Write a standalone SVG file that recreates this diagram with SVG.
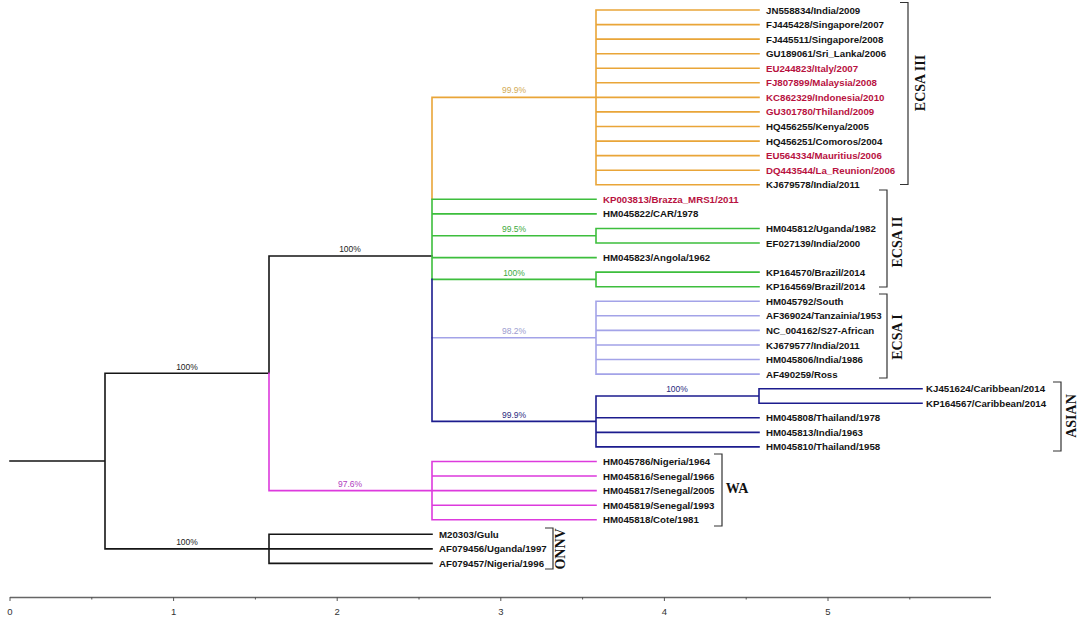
<svg xmlns="http://www.w3.org/2000/svg" width="1084" height="619" viewBox="0 0 1084 619">
<style>
.ln{fill:none;stroke-width:1.6;stroke-linecap:square}
.k{stroke:#151515}.o{stroke:#E9A538}.g{stroke:#3DBE3D}.p{stroke:#A3A3E8}.b{stroke:#1C1C8E}.m{stroke:#DD3ADD}
.lf{font-family:"Liberation Sans",Arial,sans-serif;font-size:9.7px;font-weight:bold;fill:#141414}
.red{fill:#B8123F}
.bs{font-family:"Liberation Sans",Arial,sans-serif;font-size:8.5px;text-anchor:middle}
.cl{font-family:"Liberation Serif","Times New Roman",serif;font-size:14px;font-weight:bold;fill:#111;text-anchor:middle}
.br{fill:none;stroke:#333;stroke-width:1.2}
.ax{font-family:"Liberation Sans",Arial,sans-serif;font-size:9.5px;fill:#333;text-anchor:middle}
</style>
<rect width="1084" height="619" fill="#fff"/>
<g id="connectors">
<path class="ln k" d="M10 461H105M105 373.3V548.9M105 373.3H269M105 548.9H269M269 534.3V563.4M269 534.3H432M269 548.9H432M269 563.4H432M269 256V373.3M269 256H432"/>
<path class="ln m" d="M269 373.3V490.6H432M432 461.5V519.7M432 461.5H596M432 476H596M432 490.6H596M432 505.2H596M432 519.7H596"/>
<path class="ln o" d="M432 97.4V199.3M432 97.4H596M596 10V184.8M596 10H759M596 24.6H759M596 39.1H759M596 53.7H759M596 68.3H759M596 82.8H759M596 97.4H759M596 111.9H759M596 126.5H759M596 141.1H759M596 155.6H759M596 170.2H759M596 184.8H759"/>
<path class="ln g" d="M432 199.3V279.4M432 199.3H596M432 213.9H596M432 235.7H596M596 228.5V243M596 228.5H759M596 243H759M432 257.6H596M432 279.4H596M596 272.1V286.7M596 272.1H759M596 286.7H759"/>
<path class="ln p" d="M432 337.7H596M596 301.3V374.1M596 301.3H759M596 315.8H759M596 330.4H759M596 345H759M596 359.5H759M596 374.1H759"/>
<path class="ln b" d="M432 279.4V421.4H596M596 396V446.9M596 396H759M759 388.7V403.2M759 388.7H922M759 403.2H922M596 417.8H759M596 432.4H759M596 446.9H759"/>
</g>
<g id="support">
<text class="bs" x="514" y="93" fill="#D2AA55">99.9%</text>
<text class="bs" x="350" y="252" fill="#222">100%</text>
<text class="bs" x="514" y="232" fill="#3DAA3D">99.5%</text>
<text class="bs" x="514" y="275.5" fill="#3DAA3D">100%</text>
<text class="bs" x="514" y="334" fill="#9C9CCF">98.2%</text>
<text class="bs" x="677" y="392" fill="#2A2A80">100%</text>
<text class="bs" x="514" y="418" fill="#2A2A80">99.9%</text>
<text class="bs" x="350" y="487" fill="#B040C0">97.6%</text>
<text class="bs" x="187" y="369.5" fill="#222">100%</text>
<text class="bs" x="187" y="545" fill="#222">100%</text>
</g>
<g id="n-ecsa3-leaves">
<text class="lf" x="766" y="13.5">JN558834/India/2009</text>
<text class="lf" x="766" y="28.1">FJ445428/Singapore/2007</text>
<text class="lf" x="766" y="42.6">FJ445511/Singapore/2008</text>
<text class="lf" x="766" y="57.2">GU189061/Sri_Lanka/2006</text>
<text class="lf red" x="766" y="71.8">EU244823/Italy/2007</text>
<text class="lf red" x="766" y="86.3">FJ807899/Malaysia/2008</text>
<text class="lf red" x="766" y="100.9">KC862329/Indonesia/2010</text>
<text class="lf red" x="766" y="115.4">GU301780/Thiland/2009</text>
<text class="lf" x="766" y="130">HQ456255/Kenya/2005</text>
<text class="lf" x="766" y="144.6">HQ456251/Comoros/2004</text>
<text class="lf red" x="766" y="159.1">EU564334/Mauritius/2006</text>
<text class="lf red" x="766" y="173.7">DQ443544/La_Reunion/2006</text>
<text class="lf" x="766" y="188.3">KJ679578/India/2011</text>
</g>
<g id="n-ecsa2-leaves">
<text class="lf red" x="603" y="202.8">KP003813/Brazza_MRS1/2011</text>
<text class="lf" x="603" y="217.4">HM045822/CAR/1978</text>
<text class="lf" x="766" y="232">HM045812/Uganda/1982</text>
<text class="lf" x="766" y="246.5">EF027139/India/2000</text>
<text class="lf" x="603" y="261.1">HM045823/Angola/1962</text>
<text class="lf" x="766" y="275.6">KP164570/Brazil/2014</text>
<text class="lf" x="766" y="290.2">KP164569/Brazil/2014</text>
</g>
<g id="n-ecsa1-leaves">
<text class="lf" x="766" y="304.8">HM045792/South</text>
<text class="lf" x="766" y="319.3">AF369024/Tanzainia/1953</text>
<text class="lf" x="766" y="333.9">NC_004162/S27-African</text>
<text class="lf" x="766" y="348.5">KJ679577/India/2011</text>
<text class="lf" x="766" y="363">HM045806/India/1986</text>
<text class="lf" x="766" y="377.6">AF490259/Ross</text>
</g>
<g id="n-asian-leaves">
<text class="lf" x="926" y="392.2">KJ451624/Caribbean/2014</text>
<text class="lf" x="926" y="406.7">KP164567/Caribbean/2014</text>
<text class="lf" x="766" y="421.3">HM045808/Thailand/1978</text>
<text class="lf" x="766" y="435.9">HM045813/India/1963</text>
<text class="lf" x="766" y="450.4">HM045810/Thailand/1958</text>
</g>
<g id="n-wa-leaves">
<text class="lf" x="603" y="465">HM045786/Nigeria/1964</text>
<text class="lf" x="603" y="479.5">HM045816/Senegal/1966</text>
<text class="lf" x="603" y="494.1">HM045817/Senegal/2005</text>
<text class="lf" x="603" y="508.7">HM045819/Senegal/1993</text>
<text class="lf" x="603" y="523.2">HM045818/Cote/1981</text>
</g>
<g id="n-onnv-leaves">
<text class="lf" x="439" y="537.8">M20303/Gulu</text>
<text class="lf" x="439" y="552.4">AF079456/Uganda/1997</text>
<text class="lf" x="439" y="566.9">AF079457/Nigeria/1996</text>
</g>
<g id="clade-ecsa3">
<path class="br" d="M900 2.5H908V184.5H900"/>
<text class="cl" transform="translate(925,83) rotate(-90)">ECSA III</text>
</g>
<g id="clade-ecsa2">
<path class="br" d="M879 190H887V287H879"/>
<text class="cl" transform="translate(902,242) rotate(-90)">ECSA II</text>
</g>
<g id="clade-ecsa1">
<path class="br" d="M879 294H887V378H879"/>
<text class="cl" transform="translate(902,337) rotate(-90)">ECSA I</text>
</g>
<g id="clade-asian">
<path class="br" d="M1053 382H1061V451H1053"/>
<text class="cl" transform="translate(1076,416) rotate(-90)">ASIAN</text>
</g>
<g id="clade-wa">
<path class="br" d="M714 454H722V526H714"/>
<text class="cl" x="737" y="493">WA</text>
</g>
<g id="clade-onnv">
<path class="br" d="M545 528H553V569H545"/>
<text class="cl" transform="translate(565,549) rotate(-90)">ONNV</text>
</g>
<g id="axis">
<path d="M10 597.5H991" stroke="#666" stroke-width="1.5" fill="none"/>
<path d="M10 597V601M173.6 597V601M337.2 597V601M500.8 597V601M664.4 597V601M828 597V601" stroke="#555" stroke-width="1" fill="none"/>
<path d="M91.8 597V599.5M255.4 597V599.5M419 597V599.5M582.6 597V599.5M746.2 597V599.5M909.8 597V599.5" stroke="#555" stroke-width="1" fill="none"/>
<text class="ax" x="10" y="615">0</text>
<text class="ax" x="173.6" y="615">1</text>
<text class="ax" x="337.2" y="615">2</text>
<text class="ax" x="500.8" y="615">3</text>
<text class="ax" x="664.4" y="615">4</text>
<text class="ax" x="828" y="615">5</text>
</g>
</svg>
